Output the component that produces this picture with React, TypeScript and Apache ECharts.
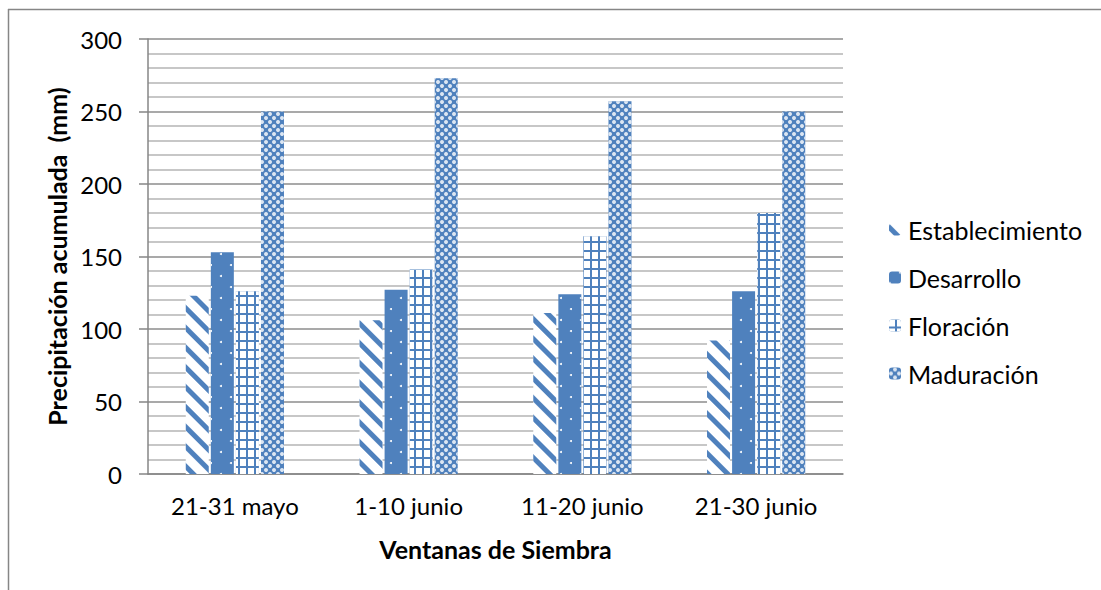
import React, { useEffect, useRef } from "react";
import * as echarts from "echarts";

const categories = ["21-31 mayo", "1-10 junio", "11-20 junio", "21-30 junio"];
const establecimiento = [123, 106, 111, 92];
const desarrollo = [153, 127, 124, 126];
const floracion = [126, 141, 164, 180];
const maduracion = [250, 273, 257, 250];
const seriesNames = ["Establecimiento", "Desarrollo", "Floración", "Maduración"];

const BLUE = "#4F81BD";
const FONT = "Lato, 'Liberation Sans', sans-serif";

export default function App() {
  const ref = useRef<HTMLDivElement>(null);
  useEffect(() => {
    document.body.style.margin = "0";
    const chart = echarts.init(ref.current!, undefined, { renderer: "svg" });
    const styles = [
      {
        color: "#ffffff",
        decal: {
          symbol: "rect",
          symbolSize: 1,
          color: BLUE,
          dashArrayX: [1, 0],
          dashArrayY: [5, 9],
          rotation: Math.PI / 4,
        },
      },
      {
        color: BLUE,
        decal: {
          symbol: "circle",
          symbolSize: 1,
          color: "#ffffff",
          dashArrayX: [[2, 18], [0, 10, 2, 8]],
          dashArrayY: [2, 9],
        },
      },
      {
        color: BLUE,
        decal: {
          symbol: "rect",
          symbolSize: 1,
          color: "#ffffff",
          dashArrayX: [6, 2],
          dashArrayY: [7, 2],
        },
      },
      {
        color: BLUE,
        decal: {
          symbol: "circle",
          symbolSize: 1,
          color: "rgba(255,255,255,0.8)",
          dashArrayX: [[4, 4], [0, 4, 4, 0]],
          dashArrayY: [4, 0],
        },
      },
    ];
    const datas = [establecimiento, desarrollo, floracion, maduracion];
    chart.setOption({
      animation: false,
      textStyle: { fontFamily: FONT },
      grid: { left: 148, right: 258, top: 39, bottom: 116, containLabel: false },
      legend: {
        orient: "vertical",
        left: 884,
        top: 212,
        itemWidth: 12,
        itemHeight: 12,
        itemGap: 23,
        textStyle: { fontFamily: FONT, fontSize: 25, color: "#000", padding: [0, 0, 0, 2] },
        data: seriesNames,
      },
      xAxis: {
        type: "category",
        data: categories,
        axisLine: { lineStyle: { color: "#868686", width: 1.5 } },
        axisTick: { show: false },
        axisLabel: { fontFamily: FONT, fontSize: 24, color: "#000", margin: 19 },
        name: "Ventanas de Siembra",
        nameLocation: "middle",
        nameGap: 62,
        nameTextStyle: { fontFamily: FONT, fontSize: 25, fontWeight: "bold", color: "#000" },
      },
      yAxis: {
        type: "value",
        min: 0,
        max: 300,
        interval: 50,
        axisLine: { show: true, lineStyle: { color: "#868686", width: 1.5 } },
        axisTick: { show: true, length: 9, lineStyle: { color: "#868686", width: 1.5 } },
        axisLabel: { fontFamily: FONT, fontSize: 24, color: "#000", margin: 26 },
        splitLine: { lineStyle: { color: "#8c8c8c", width: 1.5 } },
        minorTick: { show: false, splitNumber: 5 },
        minorSplitLine: { show: true, lineStyle: { color: "#b4b4b4", width: 1.5 } },
        name: "Precipitación acumulada  (mm)",
        nameLocation: "middle",
        nameGap: 77,
        nameTextStyle: { fontFamily: FONT, fontSize: 25, fontWeight: "bold", color: "#000" },
      },
      series: seriesNames.map((n, i) => ({
        name: n,
        type: "bar",
        data: datas[i],
        barWidth: 23,
        barGap: "9%",
        itemStyle: styles[i],
      })),
      graphic: [
        { type: "line", shape: { x1: 8.5, y1: 9, x2: 8.5, y2: 590 }, style: { stroke: "#868686", lineWidth: 1.5 } },
        { type: "line", shape: { x1: 8, y1: 9.5, x2: 1101, y2: 9.5 }, style: { stroke: "#868686", lineWidth: 1.5 } },
      ],
    });
    return () => chart.dispose();
  }, []);
  return <div ref={ref} style={{ width: 1101, height: 590 }} />;
}
